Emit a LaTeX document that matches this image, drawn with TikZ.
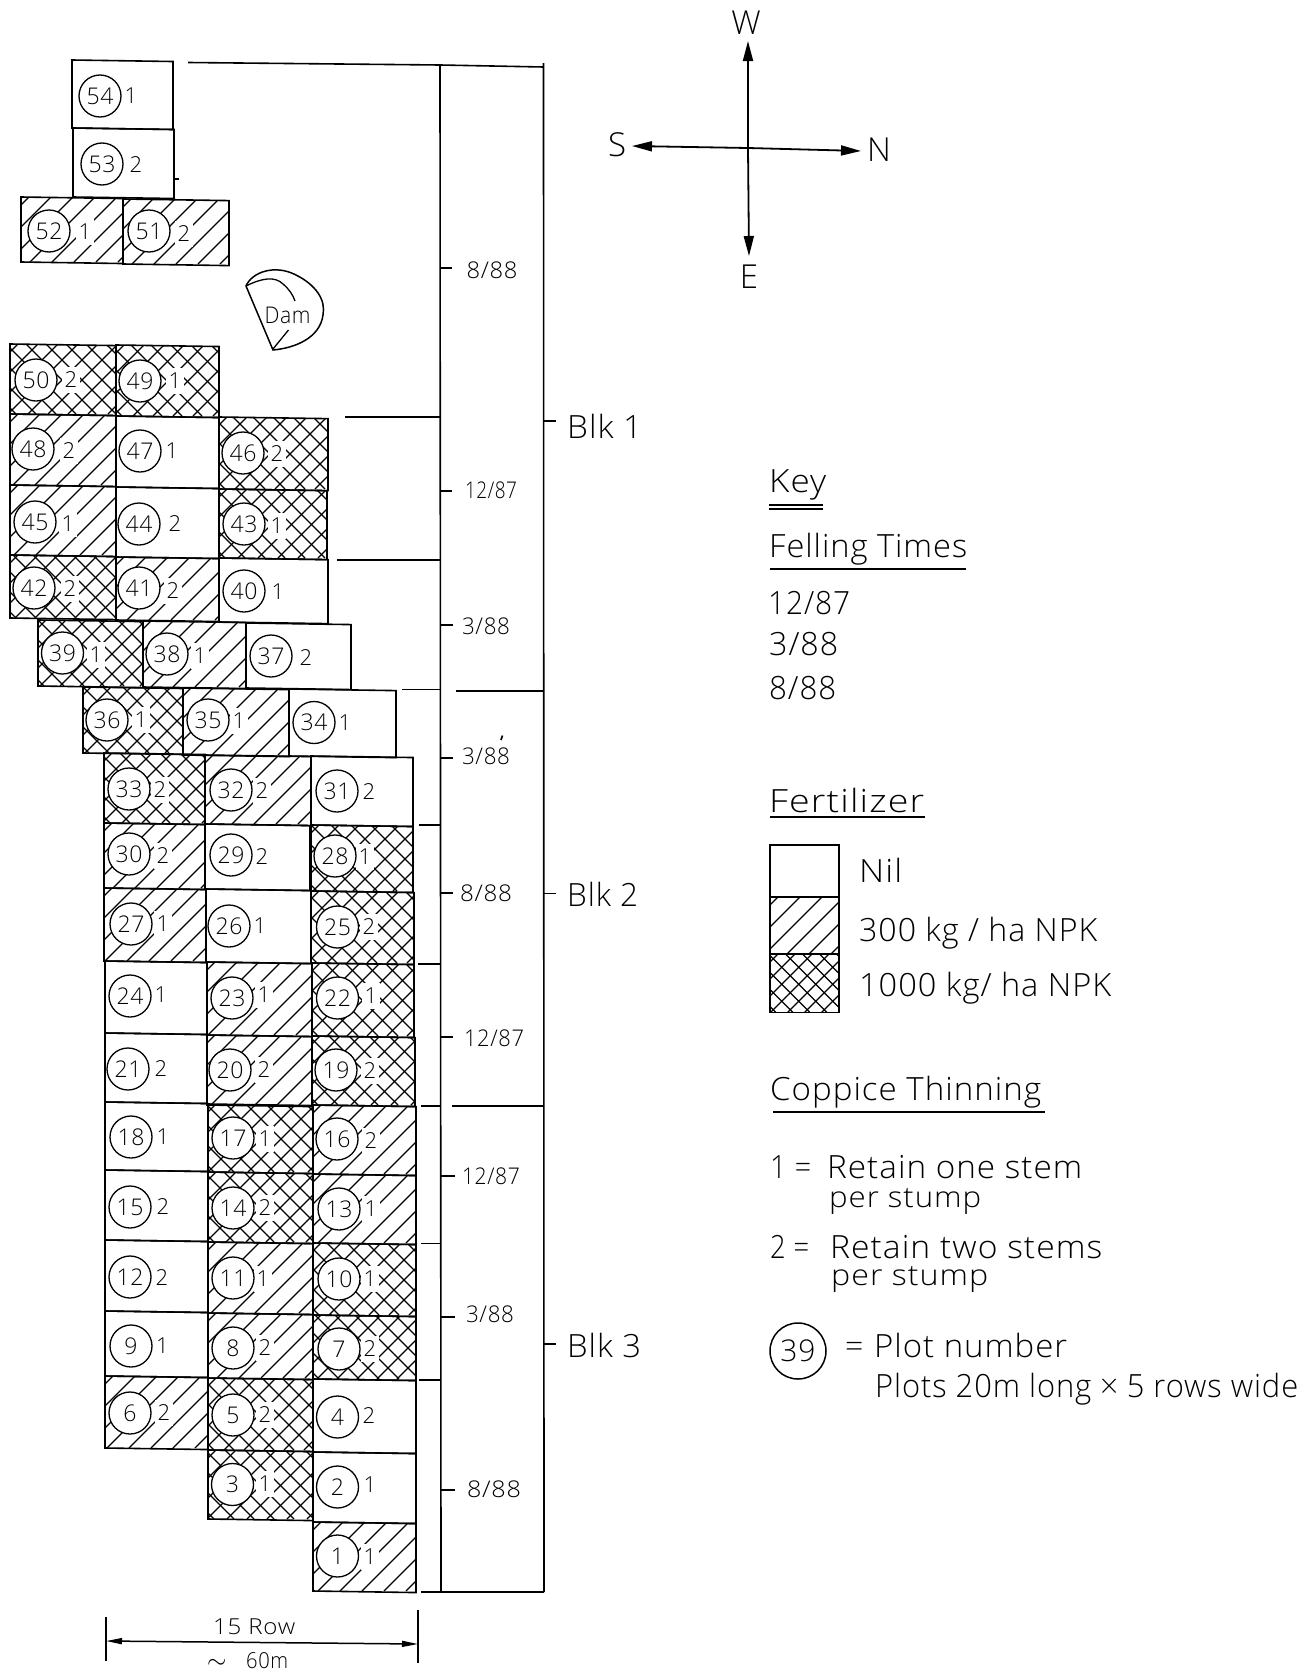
\documentclass[tikz,border=0pt]{standalone}
\usepackage{fontspec}
\usepackage{graphicx}
\setmainfont[LetterSpace=3]{Open Sans Light}
\usetikzlibrary{arrows.meta}
\newcommand{\fitw}[2]{\resizebox{#1pt}{\height}{#2}}
\tikzset{
  x=1pt,y=-1pt,
  frameline/.style={line width=1.6pt,black},
  plotedge/.style={line width=1.6pt,black,line join=miter},
  hatchline/.style={line width=1.3pt,black},
  plotcirc/.style={circle,draw=black,line width=1.3pt,fill=white,minimum size=42pt,inner sep=0pt,font=\fontsize{23}{23}\selectfont},
  thindigit/.style={inner sep=0pt,font=\fontsize{22}{22}\selectfont},
  datelabel/.style={inner sep=0pt,font=\fontsize{23}{23}\selectfont},
  keytext/.style={anchor=base west,inner sep=0pt,font=\fontsize{32}{32}\selectfont},
  subtext/.style={anchor=base west,inner sep=0pt,font=\fontsize{29}{29}\selectfont},
  dimtext/.style={anchor=base west,inner sep=0pt,font=\fontsize{22}{22}\selectfont},
  compasstext/.style={inner sep=0pt,font=\fontsize{33}{33}\selectfont},
  compassarrow/.style={line width=1.8pt,-{Triangle[length=20pt,width=10pt]}},
  dimarrow/.style={line width=1.5pt,{Triangle[length=16pt,width=6pt]}-{Triangle[length=16pt,width=6pt]}},
}
\newcommand{\hatchfwd}[5]{\foreach \hi in {-1,...,10}{\pgfmathsetmacro\hc{#1+#2+8+#5*\hi}\draw[hatchline] ({\hc-#2},#2)--({\hc-#4},#4);}}
\newcommand{\hatchbck}[5]{\foreach \hi in {-1,...,10}{\pgfmathsetmacro\hc{#1-#4+6+#5*\hi}\draw[hatchline] ({\hc+#2},#2)--({\hc+#4},#4);}}
\begin{document}
\begin{tikzpicture}
\useasboundingbox (0,0) rectangle (1311,1673);
\fill[white] (0,0) rectangle (1311,1673);
% plots: number / x1 / y1 / x2 / y2 / kind / thinning / circle x / y / digit x / y
\foreach \pn/\xa/\ya/\xb/\yb/\kd/\tv/\cx/\cy/\dgx/\dgy in {
54/72/60/173/128/0/1/100/96/131/96,
53/73/128/174/197/0/2/102/164/136/165,
52/21/197/123/262/1/1/49/231/85/232,
51/123/199/229/264/1/2/149/231/184/234,
50/10/344/116/414/2/2/36/380/71/380,
49/116/345/219/416/2/1/140/381/175/381,
48/10/414/116/485/1/2/33/449/69/451,
47/116/416/219/487/0/1/140/451/172/451,
46/219/417/328/489/2/2/243/453/277/454,
45/10/485/116/555/1/1/35/522/68/524,
44/116/487/219/557/0/2/139/524/175/524,
43/219/489/327/558/2/1/244/524/277/526,
42/10/555/116/618/2/2/34/588/70/589,
41/116/557/219/620/1/2/139/588/173/591,
40/219/558/328/622/0/1/244/591/278/592,
39/38/620/143/686/2/1/62.5/653/96/655,
38/143/621/246/687/1/1/167/654/200/656,
37/246/623/351/688/0/2/271/656/306/658,
36/83/687/183/753/2/1/107/720/141/720,
35/183/688/289/755/1/1/208/720/239/721,
34/289/689/396/756/0/1/314/722.5/345/722.5,
33/104/753/205/823/2/2/129/789/160/790,
32/205/755/311/824/1/2/231/790/262/791,
31/311/756/413/825/0/2/337/791/369/792,
30/104/823/205/888/1/2/129/854/163/856,
29/205/824/310/889/0/2/231/855/262/857,
28/311/825/413/891/2/1/335/856/365/857,
27/104/888/206/961/1/1/131/924/163/924,
26/206/889/311/962/0/1/229/926/260/926,
25/311/891/414/963/2/2/337.5/927/369/927,
24/105/961/207/1033/0/1/130/996/161/995,
23/207/962/312/1035/1/1/232/998/264/995,
22/312/963/414/1036/2/1/337.5/998/371/996,
21/105/1033/207/1102/0/2/128/1069/161/1069,
20/207/1035/312/1105/1/2/230/1070/264/1070,
19/312/1036/415/1105/2/2/336/1070/370/1071,
18/105/1102/208/1170/0/1/131/1137/163/1137,
17/208/1104/313/1172/2/1/233/1138/265/1139,
16/313/1105/416/1174/1/2/337/1139/371/1141,
15/105/1170/208/1240/0/2/130/1207/163/1207,
14/208/1172/313/1242/2/2/233/1208/265/1208,
13/313/1174/416/1243/1/1/339/1209/371/1209,
12/105/1240/208/1311/0/2/130/1277/162/1278,
11/208/1242/313/1313/1/1/233/1278/263/1279,
10/313/1243/416/1315/2/1/339/1279/370/1279,
9/105/1311/208/1376/0/1/131/1346/162.5/1346,
8/208/1313/313/1378/1/2/233/1348/265/1348,
7/313/1315/416/1379/2/2/339/1349/370/1349,
6/105/1376/208/1448/1/2/130/1413/164/1412.5,
5/208/1378/313/1450/2/2/233/1415/265/1415,
4/313/1379/416/1452/0/2/337.5/1417/369/1416,
3/208/1450/313/1519/2/1/232.5/1484.5/265/1484,
2/313/1452/416/1522/0/1/337.5/1487/370/1484.5,
1/313/1522/416/1591/1/1/337.5/1556/370/1557}{
  \pgfmathsetmacro\sk{0.015*(\xb-\xa)}
  \begin{scope}
    \clip (\xa,\ya)--(\xb,{\ya+\sk})--(\xb,{\yb+\sk})--(\xa,\yb)--cycle;
    \ifnum\kd=1 \hatchfwd{\xa}{\ya}{\xb}{\yb}{22}\fi
    \ifnum\kd=2 \hatchfwd{\xa}{\ya}{\xb}{\yb}{20}\hatchbck{\xa}{\ya}{\xb}{\yb}{20}\fi
    \ifnum\kd>0 \fill[white] ({\dgx-9},{\dgy-13}) rectangle ({\dgx+9},{\dgy+13});\fi
  \end{scope}
  \draw[plotedge] (\xa,\ya)--(\xb,{\ya+\sk})--(\xb,{\yb+\sk})--(\xa,\yb)--cycle;
  \node[plotcirc] (c\pn) at (\cx,\cy) {\pn};
  \node[thindigit] (t\pn) at (\dgx,\dgy) {\tv};
}
% small stray tick beside plot 53
\draw[plotedge] (174,179)--(179,179);
% felling-time frame
\draw[frameline] (188,62.5)--(440,65)--(543.5,67);
\draw[frameline] (440,65)--(441,1592);
\draw[frameline] (543.5,63)--(544,1592);
\draw[frameline] (421,1592)--(544,1592);
\foreach \fa/\fb/\fy in {345/440/417,337/440/560,402/440/689.5,456/543/691,419/440/825,418/440/964,421/440/1106,452/543/1106,421/441/1243.5,419/441/1380}{
  \draw[frameline] (\fa,\fy)--(\fb,\fy);
}
\foreach \tx/\ty/\lx/\ly/\lw/\lb in {
 452/268/492/270/51/{8/88},452/491/491/490/52/{12/87},453/625/486/626/48/{3/88},
 453/758/486/756/48/{3/88},453/893/486/893/52/{8/88},453/1037/494/1038/60/{12/87},
 455/1176/491/1176/58/{12/87},455/1317/490/1314/48/{3/88},455/1490/494/1489/54/{8/88}}{
  \draw[frameline] (441,\ty)--(\tx,\ty);
  \node[datelabel] at (\lx,\ly) {\fitw{\lw}{\lb}};
}
\draw[frameline] (501,740)--(502.5,735.5);
% block labels
\draw[frameline] (543.5,421)--(556,421);
\draw[frameline] (543.5,893.5)--(556,893.5);
\draw[frameline] (543.5,1344)--(556,1344);
\node[keytext] (blk1) at (567,438) {\fitw{75}{Blk 1}};
\node[keytext] (blk2) at (567,906) {\fitw{71}{Blk 2}};
\node[keytext] (blk3) at (567,1357) {\fitw{74}{Blk 3}};
% dam
\draw[line width=1.5pt] (246,286) .. controls (252,272) and (275,264) .. (296,275)
  .. controls (316,285) and (326,300) .. (323,315)
  .. controls (320,338) and (295,348) .. (273,350) -- cycle;
\draw[line width=1.3pt] (246,286) .. controls (262,278) and (275,276) .. (283,284) .. controls (289,289) and (293,295) .. (295,301);
\draw[line width=1.3pt] (273,349) -- (288.5,330);
\node[datelabel] (dam) at (287.5,315) {\fitw{46}{Dam}};
% compass
\coordinate (cc) at (748,148);
\coordinate (tipW) at (748,41);
\coordinate (tipE) at (749,256);
\coordinate (tipS) at (632,146);
\coordinate (tipN) at (861,151);
\draw[compassarrow] (cc)--(tipW);
\draw[compassarrow] (cc)--(tipE);
\draw[compassarrow] (cc)--(tipS);
\draw[compassarrow] (cc)--(tipN);
\node[compasstext] (W) at (746,23) {W};
\node[compasstext] (S) at (617,145) {S};
\node[compasstext] (N) at (879,150) {N};
\node[compasstext] (E) at (749,277) {E};
% key
\node[keytext] (key) at (769,492) {\fitw{57}{Key}};
\draw[plotedge] (769,505)--(823,505);
\draw[plotedge] (769,509)--(823,509);
\node[keytext] (ft) at (769,557) {\fitw{198}{Felling Times}};
\draw[plotedge] (770,569)--(966,569);
\node[keytext] (d1) at (768,614) {\fitw{82}{12/87}};
\node[keytext] (d2) at (769,655) {\fitw{69}{3/88}};
\node[keytext] (d3) at (769,699) {\fitw{67}{8/88}};
\node[keytext] (fz) at (769,812) {\fitw{155}{Fertilizer}};
\draw[plotedge] (770,817)--(925,817);
\begin{scope}\clip (770,897) rectangle (839,954);\hatchfwd{770}{897}{839}{954}{22}\end{scope}
\begin{scope}\clip (770,954) rectangle (839,1012.5);\hatchfwd{770}{954}{839}{1012.5}{17}\hatchbck{770}{954}{839}{1012.5}{17}\end{scope}
\draw[plotedge] (770,845) rectangle (839,1012.5);
\draw[plotedge] (770,897)--(839,897);
\draw[plotedge] (770,954)--(839,954);
\node[keytext] (nil) at (859,882.5) {\fitw{43}{Nil}};
\node[keytext] (f300) at (859,941) {\fitw{238}{300 kg / ha  NPK}};
\node[keytext] (f1000) at (859,996.5) {\fitw{252}{1000 kg/ ha NPK}};
\node[keytext] (cop) at (770,1100) {\fitw{271}{Coppice Thinning}};
\draw[plotedge] (773,1112)--(1045,1112);
\node[keytext] (r1) at (770,1178) {\fitw{41}{1 =}};
\node[keytext] (r1a) at (827,1178) {\fitw{255}{Retain one stem}};
\node[subtext] (r1b) at (829,1207) {\fitw{152}{per stump}};
\node[keytext] (r2) at (770,1258) {\fitw{39}{2 =}};
\node[keytext] (r2a) at (830,1258) {\fitw{272}{Retain two stems}};
\node[subtext] (r2b) at (831,1285) {\fitw{157}{per stump}};
\node[circle,draw=black,line width=1.5pt,minimum size=56pt,inner sep=0pt,font=\fontsize{30}{30}\selectfont] (c39key) at (798,1351) {39};
\node[keytext] (eq) at (845,1357) {=};
\node[keytext] (pn) at (874,1357) {\fitw{193}{Plot number}};
\node[keytext] (pl) at (875,1397) {\fitw{423}{Plots 20m long × 5 rows wide}};
% row dimension
\coordinate (dimL) at (106,1641);
\coordinate (dimR) at (418,1644);
\draw[plotedge] (106,1617)--(106,1661);
\draw[plotedge] (418,1610)--(418,1663);
\draw[dimarrow] (dimL)--(dimR);
\node[dimtext] (row) at (213,1634) {\fitw{82}{15 Row}};
\node[anchor=base west,inner sep=0pt,font=\fontsize{32}{32}\selectfont] (tl) at (207,1668) {$\sim$};
\node[dimtext] (m) at (246,1668) {\fitw{42}{60m}};
\end{tikzpicture}
\end{document}
